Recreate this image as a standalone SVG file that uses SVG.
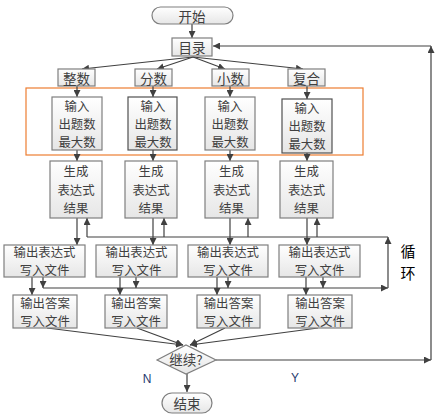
<svg xmlns="http://www.w3.org/2000/svg" width="443" height="419" viewBox="0 0 443 419">
<defs>
<linearGradient id="g" x1="0" y1="0" x2="0" y2="1">
<stop offset="0" stop-color="#FFFFFF"/>
<stop offset="1" stop-color="#E6E6E6"/>
</linearGradient>
<marker id="a" viewBox="0 0 10 10" refX="10" refY="5" markerWidth="7" markerHeight="7" markerUnits="userSpaceOnUse" orient="auto">
<path d="M0,0 L10,5 L0,10 z" fill="#404040"/>
</marker>
<style>
.b{fill:url(#g);stroke:#7F7F7F;stroke-width:1.2}
.t{font-family:"Noto Sans CJK SC","Noto Sans",sans-serif;font-size:12.4px;fill:#404040;text-anchor:middle;dominant-baseline:central}
.s{font-size:13.5px}
.c{fill:none;stroke:#404040;stroke-width:1.2}
.ca{fill:none;stroke:#404040;stroke-width:1.2;marker-end:url(#a)}
.lbl{font-family:"Liberation Sans",Arial,sans-serif;font-size:12px;fill:#1F3A6E;text-anchor:middle;dominant-baseline:central}
</style>
</defs>
<rect width="443" height="419" fill="#FFFFFF"/>
<rect x="26" y="88" width="337" height="67" fill="none" stroke="#ED7D31" stroke-width="1.2"/>
<g id="connectors">
<path class="ca" d="M192,24 V38"/>
<path class="ca" d="M193,57 L82,69"/>
<path class="ca" d="M193,57 L157,69"/>
<path class="ca" d="M193,57 L225,69"/>
<path class="ca" d="M193,57 L303,69"/>
<path class="ca" d="M77,86 V97"/>
<path class="ca" d="M153,86 V97"/>
<path class="ca" d="M230,86 V97"/>
<path class="ca" d="M307,86 V99"/>
<path class="ca" d="M77,150 V161"/>
<path class="ca" d="M153,150 V161"/>
<path class="ca" d="M230,150 V161"/>
<path class="ca" d="M307,153 V161"/>
<path class="ca" d="M77,218 V245"/>
<path class="ca" d="M153,218 V245"/>
<path class="ca" d="M230,218 V245"/>
<path class="ca" d="M307,218 V245"/>
<path class="c" d="M87,237 H388"/>
<path class="ca" d="M87,237 V218"/>
<path class="ca" d="M164,237 V218"/>
<path class="ca" d="M248,237 V218"/>
<path class="ca" d="M317,237 V218"/>
<path class="ca" d="M388,288 V237"/>
<path class="ca" d="M43,288 H388"/>
<path class="ca" d="M43,277 V288"/>
<path class="ca" d="M136,277 V288"/>
<path class="ca" d="M228,277 V288"/>
<path class="ca" d="M323,277 V288"/>
<path class="ca" d="M32,277 V295"/>
<path class="ca" d="M120,277 V295"/>
<path class="ca" d="M217,277 V295"/>
<path class="ca" d="M306,277 V295"/>
<path class="ca" d="M47,328 L183,345"/>
<path class="ca" d="M137,328 L183,345"/>
<path class="ca" d="M225,328 L190,345"/>
<path class="ca" d="M318,328 L190,345"/>
<path class="ca" d="M216,360 H431"/>
<path class="ca" d="M431,360 V46"/>
<path class="ca" d="M431,46 H213"/>
<path class="ca" d="M187,374 V392"/>
</g>
<g id="start"><rect x="152" y="7" width="81" height="17" rx="8.5" class="b"/><text class="t s" x="192" y="15.5">开始</text></g>
<g id="menu"><rect x="172" y="38" width="40" height="18" class="b"/><text class="t s" x="192" y="47">目录</text></g>
<g id="cat1"><rect x="58" y="69" width="37" height="17" class="b"/><text class="t s" x="76.5" y="77.5">整数</text></g>
<g id="cat2"><rect x="135" y="69" width="37" height="17" class="b"/><text class="t s" x="153.5" y="77.5">分数</text></g>
<g id="cat3"><rect x="212" y="69" width="37" height="17" class="b"/><text class="t s" x="230.5" y="77.5">小数</text></g>
<g id="cat4"><rect x="288" y="69" width="37" height="17" class="b"/><text class="t s" x="306.5" y="77.5">复合</text></g>
<g id="in1"><rect x="52" y="97" width="50" height="53" class="b"/><text class="t" x="77" y="106">输入</text><text class="t" x="77" y="124">出题数</text><text class="t" x="77" y="142">最大数</text></g>
<g id="in2"><rect x="128" y="97" width="49" height="53" class="b" style="stroke:#505050"/><text class="t" x="153" y="106">输入</text><text class="t" x="153" y="124">出题数</text><text class="t" x="153" y="142">最大数</text></g>
<g id="in3"><rect x="205" y="97" width="50" height="53" class="b"/><text class="t" x="230" y="106">输入</text><text class="t" x="230" y="124">出题数</text><text class="t" x="230" y="142">最大数</text></g>
<g id="in4"><rect x="282" y="99" width="50" height="54" class="b" style="stroke:#505050"/><text class="t" x="307" y="108">输入</text><text class="t" x="307" y="126">出题数</text><text class="t" x="307" y="144">最大数</text></g>
<g id="gen1"><rect x="50" y="161" width="52" height="57" class="b"/><text class="t" x="76" y="171">生成</text><text class="t" x="76" y="189.5">表达式</text><text class="t" x="76" y="208">结果</text></g>
<g id="gen2"><rect x="125" y="161" width="52" height="57" class="b"/><text class="t" x="151" y="171">生成</text><text class="t" x="151" y="189.5">表达式</text><text class="t" x="151" y="208">结果</text></g>
<g id="gen3"><rect x="205" y="161" width="53" height="57" class="b"/><text class="t" x="231.5" y="171">生成</text><text class="t" x="231.5" y="189.5">表达式</text><text class="t" x="231.5" y="208">结果</text></g>
<g id="gen4"><rect x="280" y="161" width="53" height="57" class="b"/><text class="t" x="306.5" y="171">生成</text><text class="t" x="306.5" y="189.5">表达式</text><text class="t" x="306.5" y="208">结果</text></g>
<g id="oe1"><rect x="4" y="245" width="81" height="32" class="b"/><text class="t" x="44.5" y="252">输出表达式</text><text class="t" x="44.5" y="270">写入文件</text></g>
<g id="oe2"><rect x="96" y="245" width="81" height="32" class="b"/><text class="t" x="136.5" y="252">输出表达式</text><text class="t" x="136.5" y="270">写入文件</text></g>
<g id="oe3"><rect x="188" y="245" width="80" height="32" class="b"/><text class="t" x="228" y="252">输出表达式</text><text class="t" x="228" y="270">写入文件</text></g>
<g id="oe4"><rect x="279" y="245" width="81" height="32" class="b"/><text class="t" x="319.5" y="252">输出表达式</text><text class="t" x="319.5" y="270">写入文件</text></g>
<g id="oa1"><rect x="13" y="295" width="64" height="33" class="b"/><text class="t" x="45" y="302.5">输出答案</text><text class="t" x="45" y="320.5">写入文件</text></g>
<g id="oa2"><rect x="105" y="295" width="62" height="33" class="b"/><text class="t" x="136" y="302.5">输出答案</text><text class="t" x="136" y="320.5">写入文件</text></g>
<g id="oa3"><rect x="197" y="295" width="63" height="33" class="b"/><text class="t" x="228.5" y="302.5">输出答案</text><text class="t" x="228.5" y="320.5">写入文件</text></g>
<g id="oa4"><rect x="288" y="295" width="64" height="33" class="b"/><text class="t" x="320" y="302.5">输出答案</text><text class="t" x="320" y="320.5">写入文件</text></g>
<g id="decision"><path d="M157,360 L186,345 L216,360 L186,374 Z" class="b"/><text class="t s" x="186" y="359">继续?</text></g>
<g id="end"><rect x="162" y="393" width="50" height="20" rx="10" class="b"/><text class="t s" x="187" y="403">结束</text></g>
<text class="lbl" x="147" y="379">N</text>
<text class="lbl" x="295" y="378">Y</text>
<text class="t" x="408" y="250" style="font-size:15px;fill:#000">循</text>
<text class="t" x="408" y="272" style="font-size:15px;fill:#000">环</text>
</svg>
